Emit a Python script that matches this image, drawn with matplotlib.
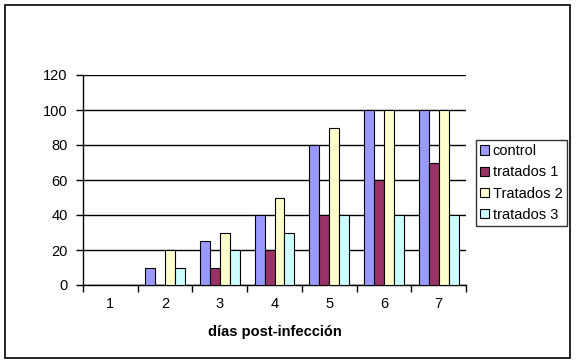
import numpy as np
import matplotlib
matplotlib.use("Agg")
import matplotlib.pyplot as plt
from matplotlib.patches import Rectangle

plt.rcParams['font.family'] = ['Liberation Sans', 'DejaVu Sans']

dias = ['1', '2', '3', '4', '5', '6', '7']
control = [0, 10, 25, 40, 80, 100, 100]
tratados1 = [0, 0, 10, 20, 40, 60, 70]
tratados2 = [0, 20, 30, 50, 90, 100, 100]
tratados3 = [0, 10, 20, 30, 40, 40, 40]

series = [control, tratados1, tratados2, tratados3]
names = ['control', 'tratados 1', 'Tratados 2', 'tratados 3']
colors = ['#9999FF', '#993366', '#FFFFCC', '#CCFFFF']

fig = plt.figure(figsize=(5.76, 3.63), dpi=100)
ax = fig.add_axes([83 / 576, 78 / 363, 383 / 576, 210 / 363])

x = np.arange(len(dias))
w = 1 / 5.5
for i, (vals, name, c) in enumerate(zip(series, names, colors)):
    ax.bar(x + (i - 1.5) * w, vals, width=w, color=c, edgecolor='black',
           linewidth=0.8, label=name, zorder=3)

ax.set_xlim(-0.5, len(dias) - 0.5)
ax.set_ylim(0, 120)
ax.set_yticks(range(0, 121, 20))
ax.yaxis.grid(True, color='black', linewidth=1, zorder=0)
ax.set_xticks(x)
ax.set_xticklabels(dias)
ax.set_xticks(np.arange(-0.5, len(dias)), minor=True)
ax.tick_params(axis='x', which='major', length=0, pad=9, labelsize=10.5)
ax.tick_params(axis='x', which='minor', length=5, width=1, direction='out')
ax.tick_params(axis='y', length=5, width=1, direction='out', labelsize=10.5, pad=6)
for s in ['top', 'right']:
    ax.spines[s].set_visible(False)
ax.spines['left'].set_linewidth(1)
ax.spines['bottom'].set_linewidth(1)
ax.set_xlabel('días post-infección', fontsize=10.5, fontweight='bold', labelpad=10)

leg = ax.legend(loc='center left', bbox_to_anchor=(476 / 576, 180 / 363),
                bbox_transform=fig.transFigure, frameon=True, fancybox=False,
                edgecolor='black', fontsize=10.5, handlelength=0.6, handleheight=0.6,
                handletextpad=0.25, borderpad=0.3, labelspacing=0.5,
                borderaxespad=0)
leg.get_frame().set_linewidth(1)

fig.patches.append(Rectangle((5 / 576, 5 / 363), 565 / 576, 353 / 363,
                             transform=fig.transFigure, fill=False,
                             edgecolor='black', linewidth=1.2))

fig.savefig('out.png', dpi=100)
